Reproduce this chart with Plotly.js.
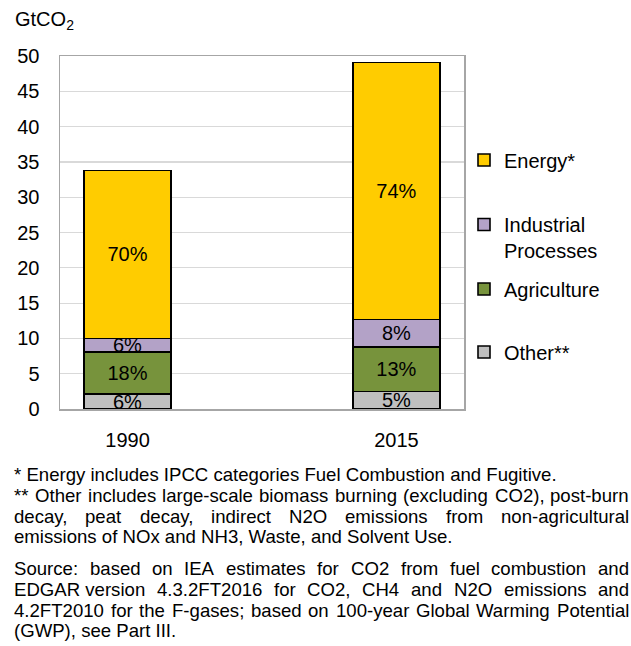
<!DOCTYPE html>
<html>
<head>
<meta charset="utf-8">
<script src="https://cdn.plot.ly/plotly-3.0.1.min.js"></script>
<style>
  html, body { margin: 0; padding: 0; background: #fff; }
  #chart { width: 631px; height: 646px; }
</style>
</head>
<body>
<div id="chart"></div>
<script>
// Greenhouse gas emissions by sector, GtCO2-equivalent
const years = ['1990', '2015'];
const other = [2.1, 2.5];
const agriculture = [6.0, 6.3];
const industrial = [1.9, 3.9];
const energy = [23.8, 36.4];

const seriesNames = ['Other**', 'Agriculture', 'Industrial<br>Processes', 'Energy*'];
const seriesColors = ['#bfbfbf', '#77933c', '#b3a2c7', '#ffcc00'];
const yTicks = [0, 5, 10, 15, 20, 25, 30, 35, 40, 45, 50];

// footnote text; '~' marks a non-breaking space inside a justified line
const footnoteEnergy = '* Energy includes IPCC categories Fuel Combustion and Fugitive.';
const footnoteOther = [
  '** Other includes large-scale biomass burning (excluding CO2), post-burn',
  'decay, peat decay, indirect N2O emissions from non-agricultural',
  'emissions of NOx and NH3, Waste, and Solvent Use.'
];
const sourceNote = [
  'Source: based on IEA estimates for CO2 from fuel combustion and',
  'EDGAR~version 4.3.2FT2016 for CO2, CH4 and N2O emissions and',
  '4.2FT2010 for the F-gases; based on 100-year Global Warming Potential',
  '(GWP), see Part III.'
];

const W = 631, H = 646;
const M = { l: 60, r: 167, t: 56, b: 237 };
const FONT = '"Liberation Sans", Arial, sans-serif';
const NOTE_SIZE = 18.6;

// pixel -> paper coordinate helpers
const px = x => (x - M.l) / (W - M.l - M.r);
const py = y => (H - M.b - y) / (H - M.t - M.b);

const series = [other, agriculture, industrial, energy];
const totals = years.map((_, i) => series.reduce((s, arr) => s + arr[i], 0));

const legendNames = ['legend4', 'legend3', 'legend2', 'legend'];
const traces = series.map((vals, k) => ({
  type: 'bar',
  x: years,
  y: vals,
  name: seriesNames[k],
  legend: legendNames[k],
  width: 0.323,
  marker: { color: seriesColors[k], line: { color: '#000', width: 1.6 } },
  text: vals.map((v, i) => Math.round(v / totals[i] * 100) + '%'),
  textposition: 'inside',
  insidetextanchor: 'middle',
  textangle: 0,
  textfont: { family: FONT, size: 20, color: '#000' },
  hoverinfo: 'skip'
}));

// measure words for the justified footnote lines
const ctx = document.createElement('canvas').getContext('2d');
ctx.font = NOTE_SIZE + 'px "Liberation Sans"';
const noteFont = { family: FONT, size: NOTE_SIZE, color: '#000' };
const LEFT = 13, RIGHT = 628;
const BASE_SHIFT = 6.5;
const annotations = [];

function plainLine(text, baseline) {
  annotations.push({
    xref: 'paper', yref: 'paper', x: px(LEFT), y: py(baseline - BASE_SHIFT),
    xanchor: 'left', yanchor: 'middle', showarrow: false, borderpad: 0,
    text: text, font: noteFont, align: 'left'
  });
}
function justifiedLine(text, baseline) {
  const words = text.split(' ').map(w => w.replace(/~/g, '\u00a0'));
  const widths = words.map(w => ctx.measureText(w).width);
  const total = widths.reduce((a, b) => a + b, 0);
  const gap = (RIGHT - LEFT - total) / (words.length - 1);
  let x = LEFT;
  words.forEach((w, i) => {
    annotations.push({
      xref: 'paper', yref: 'paper', x: px(x), y: py(baseline - BASE_SHIFT),
      xanchor: 'left', yanchor: 'middle', showarrow: false, borderpad: 0,
      text: w, font: noteFont
    });
    x += widths[i] + gap;
  });
}

plainLine(footnoteEnergy, 480.7);
justifiedLine(footnoteOther[0], 501.7);
justifiedLine(footnoteOther[1], 522.7);
plainLine(footnoteOther[2], 543.3);
justifiedLine(sourceNote[0], 575);
justifiedLine(sourceNote[1], 596);
justifiedLine(sourceNote[2], 616.7);
plainLine(sourceNote[3], 637.3);

// unit label above the value axis
annotations.push({
  xref: 'paper', yref: 'paper', x: px(13), y: py(21),
  xanchor: 'left', yanchor: 'middle', showarrow: false,
  text: 'GtCO<sub>2</sub>', font: { family: FONT, size: 20, color: '#000' }
});

const legendBase = {
  xanchor: 'left', yanchor: 'middle', x: px(464),
  bgcolor: 'rgba(0,0,0,0)', borderwidth: 0, valign: 'top',
  font: { family: FONT, size: 20, color: '#000' }, itemclick: false
};

const layout = {
  width: W, height: H,
  margin: M,
  paper_bgcolor: '#fff', plot_bgcolor: '#fff',
  barmode: 'stack',
  showlegend: true,
  font: { family: FONT, color: '#000' },
  uniformtext: { minsize: 20, mode: 'show' },
  xaxis: {
    type: 'category', range: [-0.251, 1.251], fixedrange: true,
    showline: true, linecolor: '#a6a6a6', linewidth: 1.5, mirror: true,
    ticks: '', ticklabelstandoff: 12,
    tickfont: { family: FONT, size: 20, color: '#000' }
  },
  yaxis: {
    range: [0, 50], tickvals: yTicks, fixedrange: true,
    showline: true, linecolor: '#a6a6a6', linewidth: 1.5, mirror: true,
    showgrid: true, gridcolor: '#d9d9d9', gridwidth: 1.2, zeroline: false,
    ticks: '', ticklabelstandoff: 15,
    tickfont: { family: FONT, size: 20, color: '#000' }
  },
  legend: Object.assign({}, legendBase, { y: py(160) }),
  legend2: Object.assign({}, legendBase, { y: py(237.5) }),
  legend3: Object.assign({}, legendBase, { y: py(289) }),
  legend4: Object.assign({}, legendBase, { y: py(352) }),
  annotations: annotations
};

Plotly.newPlot('chart', traces, layout, { displayModeBar: false, staticPlot: true });
</script>
</body>
</html>
